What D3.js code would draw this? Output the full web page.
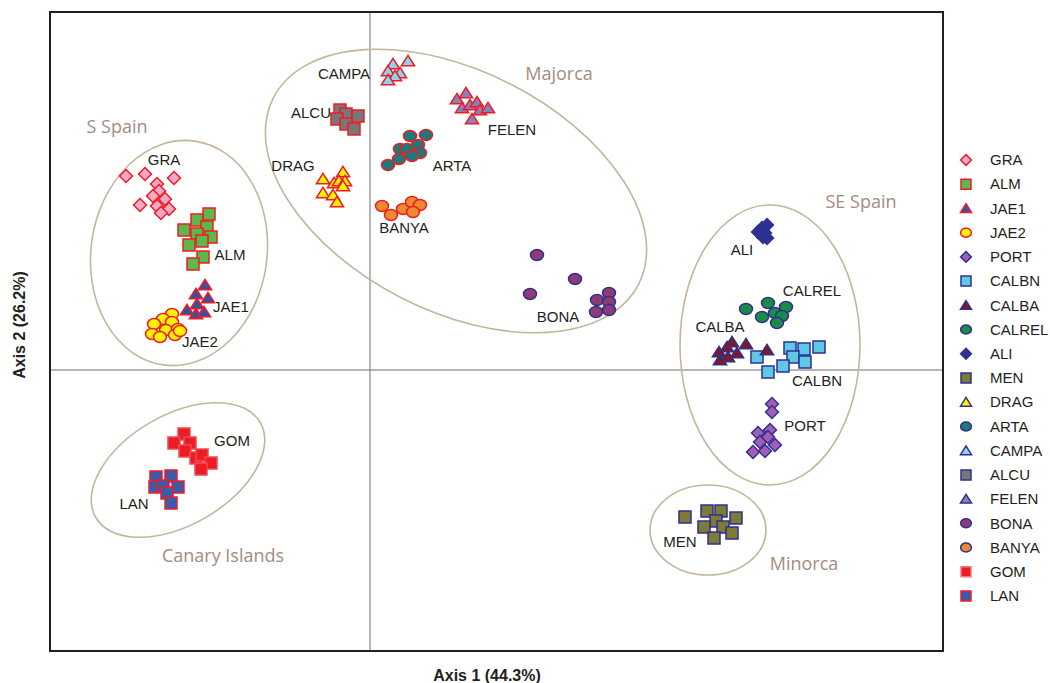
<!DOCTYPE html>
<html>
<head>
<meta charset="utf-8">
<script src="https://cdn.jsdelivr.net/npm/d3@7"></script>
<style>
body { margin: 0; background: #fff; }
svg { display: block; font-family: "Liberation Sans", Arial, sans-serif; }
.pop-label { font-size: 15px; fill: #231f20; }
.region-label { font-family: "Open Sans", sans-serif; font-size: 18px; fill: #a28c80; }
.axis-title { font-size: 16px; font-weight: bold; fill: #231f20; }
.legend text { font-size: 15px; fill: #231f20; }
</style>
</head>
<body>
<div id="chart"></div>
<script>
// PCoA scores, [axis1, axis2]
var GRA = [[-2.44, 1.94], [-2.25, 1.96], [-1.96, 1.92], [-2.13, 1.86], [-2.11, 1.79], [-2.17, 1.74],
    [-2.05, 1.71], [-2.30, 1.65], [-2.13, 1.64], [-2.01, 1.61], [-2.09, 1.57]];
var ALM = [[-1.61, 1.56], [-1.73, 1.50], [-1.86, 1.40], [-1.63, 1.43], [-1.73, 1.36], [-1.59, 1.33],
    [-1.68, 1.29], [-1.81, 1.25], [-1.67, 1.13], [-1.77, 1.06]];
var JAE1 = [[-1.65, 0.85], [-1.74, 0.76], [-1.62, 0.72], [-1.73, 0.66], [-1.83, 0.60], [-1.74, 0.56], [-1.66, 0.58]];
var JAE2 = [[-1.98, 0.56], [-2.07, 0.51], [-2.16, 0.46], [-1.98, 0.48], [-2.04, 0.40], [-1.92, 0.41],
    [-2.18, 0.36], [-2.10, 0.33], [-1.95, 0.35], [-1.90, 0.39]];
var PORT = [[4.02, -0.34], [4.02, -0.42], [4.00, -0.60], [3.88, -0.63], [3.90, -0.72], [3.98, -0.67],
    [4.05, -0.75], [3.83, -0.82], [3.95, -0.81]];
var CALBN = [[4.20, 0.22], [4.34, 0.21], [4.49, 0.23], [3.87, 0.13], [4.23, 0.13], [4.35, 0.08], [4.13, 0.04], [3.98, -0.02]];
var CALBA = [[3.62, 0.28], [3.76, 0.26], [3.57, 0.23], [3.49, 0.18], [3.67, 0.17], [3.58, 0.13], [3.50, 0.10], [3.97, 0.20]];
var CALREL = [[3.76, 0.61], [3.98, 0.67], [4.16, 0.63], [3.92, 0.53], [4.05, 0.57], [4.12, 0.54], [4.07, 0.47]];
var ALI = [[3.92, 1.42], [3.97, 1.45], [3.88, 1.38], [3.95, 1.37], [3.97, 1.32], [3.93, 1.33]];
var MEN = [[3.15, -1.47], [3.37, -1.41], [3.51, -1.41], [3.66, -1.48], [3.46, -1.51], [3.34, -1.57],
    [3.53, -1.57], [3.62, -1.63], [3.44, -1.68]];
var DRAG = [[-0.27, 1.98], [-0.47, 1.91], [-0.36, 1.87], [-0.31, 1.89], [-0.25, 1.89], [-0.27, 1.84],
    [-0.47, 1.77], [-0.37, 1.75], [-0.33, 1.68]];
var ARTA = [[0.40, 2.34], [0.56, 2.35], [0.30, 2.21], [0.37, 2.21], [0.48, 2.25], [0.50, 2.17],
    [0.42, 2.14], [0.29, 2.11], [0.18, 2.05]];
var CAMPA = [[0.23, 3.06], [0.38, 3.09], [0.18, 2.99], [0.30, 2.97], [0.25, 2.94], [0.18, 2.90]];
var ALCU = [[-0.30, 2.60], [-0.24, 2.56], [-0.12, 2.54], [-0.33, 2.51], [-0.24, 2.46], [-0.16, 2.41]];
var FELEN = [[0.87, 2.71], [0.96, 2.77], [0.92, 2.62], [1.00, 2.65], [1.07, 2.68], [1.10, 2.60], [1.18, 2.62], [1.02, 2.51]];
var BONA = [[1.67, 1.15], [2.05, 0.91], [1.60, 0.76], [2.27, 0.70], [2.39, 0.77], [2.39, 0.68], [2.26, 0.58], [2.39, 0.60]];
var BANYA = [[0.12, 1.64], [0.21, 1.55], [0.33, 1.61], [0.42, 1.68], [0.50, 1.65], [0.43, 1.58]];
var GOM = [[-1.86, -0.64], [-1.96, -0.73], [-1.80, -0.73], [-1.85, -0.81], [-1.74, -0.88], [-1.68, -0.85],
    [-1.59, -0.93], [-1.69, -0.99]];
var LAN = [[-2.14, -1.07], [-1.99, -1.06], [-2.15, -1.17], [-2.07, -1.16], [-1.92, -1.17], [-2.03, -1.23], [-1.99, -1.33]];

// legend order
var populations = ["GRA", "ALM", "JAE1", "JAE2", "PORT", "CALBN", "CALBA", "CALREL", "ALI", "MEN",
    "DRAG", "ARTA", "CAMPA", "ALCU", "FELEN", "BONA", "BANYA", "GOM", "LAN"];

// where each population name sits, in axis units
var popLabelAt = {
    GRA: [-2.06, 2.10], ALM: [-1.40, 1.15], JAE1: [-1.39, 0.63], JAE2: [-1.70, 0.28],
    PORT: [4.35, -0.56], CALBN: [4.47, -0.11], CALBA: [3.50, 0.43], CALREL: [4.42, 0.79],
    ALI: [3.72, 1.20], MEN: [3.10, -1.72], DRAG: [-0.77, 2.04], ARTA: [0.82, 2.04],
    CAMPA: [-0.26, 2.96], ALCU: [-0.59, 2.57], FELEN: [1.42, 2.40], BONA: [1.88, 0.53],
    BANYA: [0.34, 1.42], GOM: [-1.38, -0.71], LAN: [-2.36, -1.34]
};

// regional groupings: name, centre, radii, tilt, label position
var regionNames = ["S Spain", "Majorca", "SE Spain", "Minorca", "Canary Islands"];
var regionCentres = [[-1.91, 1.17], [0.86, 1.79], [4.00, 0.25], [3.38, -1.60], [-1.92, -1.00]];
var regionRadii = [[0.88, 1.13], [2.05, 1.20], [0.90, 1.40], [0.58, 0.45], [0.95, 0.55]];
var regionTilt = [8, 27, 0, 0, -30];
var regionLabelAt = [[-2.53, 2.43], [1.89, 2.96], [4.91, 1.68], [4.34, -1.94], [-1.47, -1.86]];

var axisTitles = ["Axis 1 (44.3%)", "Axis 2 (26.2%)"];

var shapes = {
    GRA: "diamond", ALM: "square", JAE1: "triangle", JAE2: "circle", PORT: "diamond", CALBN: "square",
    CALBA: "triangle", CALREL: "circle", ALI: "diamond", MEN: "square", DRAG: "triangle", ARTA: "circle",
    CAMPA: "triangle", ALCU: "square", FELEN: "triangle", BONA: "circle", BANYA: "circle", GOM: "square", LAN: "square"
};

var red = "#ed1c24", blue = "#2e3192";

var fills = {
    GRA: "#f6a9c6", ALM: "#5cb84a", JAE1: "#3a4fa0", JAE2: "#fff200", PORT: "#a55cb5", CALBN: "#5ec8e5",
    CALBA: "#7f1a24", CALREL: "#1b8c45", ALI: "#2e3192", MEN: "#7d7b35", DRAG: "#fff200", ARTA: "#1a7a7c",
    CAMPA: "#8dd3ef", ALCU: "#77777a", FELEN: "#8a80bd", BONA: "#8e3a73", BANYA: "#ec8a2d", GOM: "#ed1c24", LAN: "#3d5aa8"
};

var strokes = {
    GRA: red, ALM: red, JAE1: red, JAE2: red, PORT: blue, CALBN: blue, CALBA: blue, CALREL: blue,
    ALI: blue, MEN: blue, DRAG: red, ARTA: red, CAMPA: red, ALCU: red, FELEN: red, BONA: blue,
    BANYA: red, GOM: "#f04a50", LAN: red
};

// the legend draws the Majorca sets with a blue outline
var legendStrokes = Object.assign({}, strokes, {
    DRAG: blue, ARTA: blue, CAMPA: blue, ALCU: blue, FELEN: blue, BANYA: blue, GOM: "#f6787c"
});

var pointSets = {
    GRA: GRA, ALM: ALM, JAE1: JAE1, JAE2: JAE2, PORT: PORT, CALBN: CALBN, CALBA: CALBA, CALREL: CALREL,
    ALI: ALI, MEN: MEN, DRAG: DRAG, ARTA: ARTA, CAMPA: CAMPA, ALCU: ALCU, FELEN: FELEN, BONA: BONA,
    BANYA: BANYA, GOM: GOM, LAN: LAN
};

var width = 1050, height = 683;
var frame = { left: 50, right: 943, top: 12, bottom: 651 };

function markerPath(shape, s) {
    if (shape == "square") {
        return "M" + (-s) + "," + (-s) + "h" + (2 * s) + "v" + (2 * s) + "h" + (-2 * s) + "Z";
    }
    if (shape == "diamond") {
        s = s * 1.08;
        return "M0," + (-s) + "L" + s + ",0L0," + s + "L" + (-s) + ",0Z";
    }
    if (shape == "triangle") {
        var w = s * 1.1;
        return "M0," + (-s * 0.95) + "L" + w + "," + (s * 0.8) + "L" + (-w) + "," + (s * 0.8) + "Z";
    }
    // ellipse
    var rx = s * 1.08, ry = s * 0.9;
    return "M" + (-rx) + ",0A" + rx + "," + ry + " 0 1,0 " + rx + ",0A" + rx + "," + ry + " 0 1,0 " + (-rx) + ",0Z";
}

var svg = d3.select("#chart").append("svg")
    .attr("width", width)
    .attr("height", height);

var x = d3.scaleLinear()
    .domain([-3.2, 5.73])
    .range([frame.left, frame.right]);

var y = d3.scaleLinear()
    .domain([-2.81, 3.58])
    .range([frame.bottom, frame.top]);

// crosshair at the origin
svg.append("line")
    .attr("x1", x(0)).attr("x2", x(0))
    .attr("y1", frame.top).attr("y2", frame.bottom)
    .attr("stroke", "#6d6e71").attr("stroke-width", 1);
svg.append("line")
    .attr("x1", frame.left).attr("x2", frame.right)
    .attr("y1", y(0)).attr("y2", y(0))
    .attr("stroke", "#6d6e71").attr("stroke-width", 1);

// region ellipses
var regions = svg.append("g").attr("class", "regions")
    .selectAll("g")
    .data(regionNames)
    .enter()
    .append("g");

regions.append("ellipse")
    .attr("cx", 0).attr("cy", 0)
    .attr("rx", function (d, i) { return x(regionRadii[i][0]) - x(0); })
    .attr("ry", function (d, i) { return y(0) - y(regionRadii[i][1]); })
    .attr("transform", function (d, i) {
        return "translate(" + x(regionCentres[i][0]) + "," + y(regionCentres[i][1]) + ") rotate(" + regionTilt[i] + ")";
    })
    .attr("fill", "none")
    .attr("stroke", "#c4b59c")
    .attr("stroke-width", 1.6);

regions.append("text")
    .attr("class", "region-label")
    .attr("x", function (d, i) { return x(regionLabelAt[i][0]); })
    .attr("y", function (d, i) { return y(regionLabelAt[i][1]); })
    .attr("dy", "0.35em")
    .attr("text-anchor", "middle")
    .text(function (d) { return d; });

// points
var pts = [];
populations.forEach(function (p) {
    pointSets[p].forEach(function (v) {
        pts.push({ pop: p, a1: v[0], a2: v[1] });
    });
});

svg.append("g").attr("class", "points")
    .selectAll("path")
    .data(pts)
    .enter()
    .append("path")
    .attr("d", function (d) { return markerPath(shapes[d.pop], 6); })
    .attr("transform", function (d) { return "translate(" + x(d.a1) + "," + y(d.a2) + ")"; })
    .attr("fill", function (d) { return fills[d.pop]; })
    .attr("stroke", function (d) { return strokes[d.pop]; })
    .attr("stroke-width", 1.5);

// population names
svg.append("g")
    .selectAll("text")
    .data(populations)
    .enter()
    .append("text")
    .attr("class", "pop-label")
    .attr("x", function (d) { return x(popLabelAt[d][0]); })
    .attr("y", function (d) { return y(popLabelAt[d][1]); })
    .attr("dy", "0.35em")
    .attr("text-anchor", "middle")
    .text(function (d) { return d; });

// frame
svg.append("rect")
    .attr("x", frame.left).attr("y", frame.top)
    .attr("width", frame.right - frame.left)
    .attr("height", frame.bottom - frame.top)
    .attr("fill", "none")
    .attr("stroke", "#231f20")
    .attr("stroke-width", 2);

// axis titles
svg.append("text")
    .attr("class", "axis-title")
    .attr("x", 487).attr("y", 681)
    .attr("text-anchor", "middle")
    .text(axisTitles[0]);

svg.append("text")
    .attr("class", "axis-title")
    .attr("transform", "translate(25,325) rotate(-90)")
    .attr("text-anchor", "middle")
    .text(axisTitles[1]);

// legend
var ly = d3.scalePoint()
    .domain(populations)
    .range([160, 596]);

var legend = svg.append("g")
    .attr("class", "legend")
    .selectAll("g")
    .data(populations)
    .enter()
    .append("g")
    .attr("transform", function (d) { return "translate(966," + ly(d) + ")"; });

legend.append("path")
    .attr("d", function (d) { return markerPath(shapes[d], 5); })
    .attr("fill", function (d) { return fills[d]; })
    .attr("stroke", function (d) { return legendStrokes[d]; })
    .attr("stroke-width", 1.5);

legend.append("text")
    .attr("x", 24)
    .attr("dy", "0.35em")
    .text(function (d) { return d; });
</script>
</body>
</html>
